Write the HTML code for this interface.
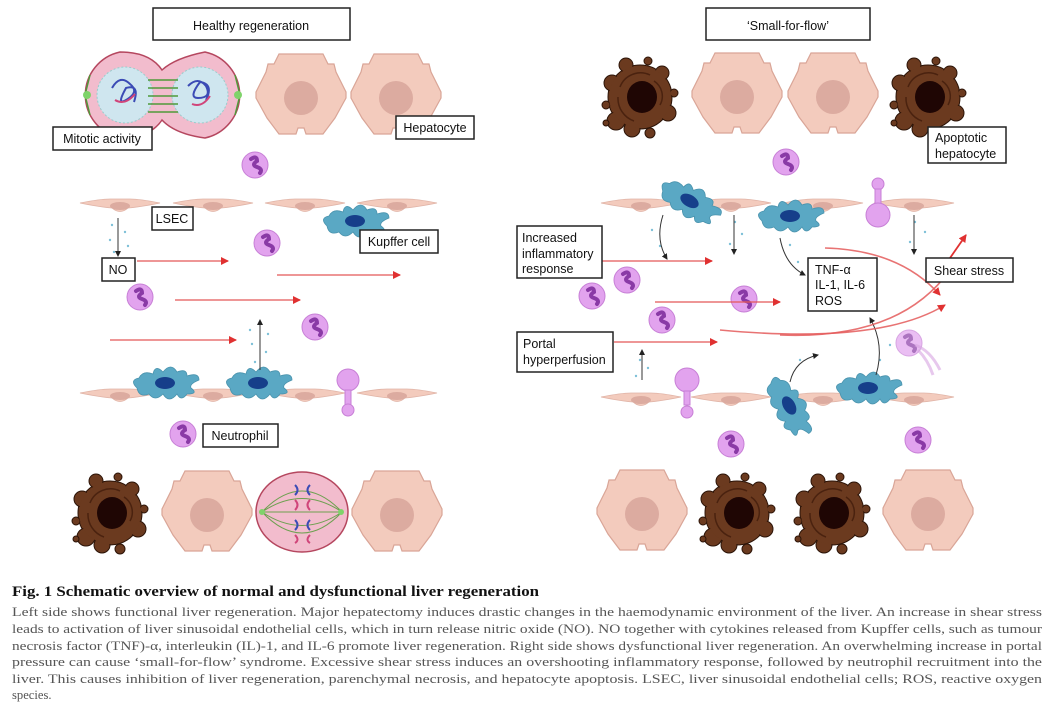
<!DOCTYPE html>
<html><head><meta charset="utf-8"><style>
html,body{margin:0;padding:0;background:#fff;}
svg{display:block;}
.lb{font-family:"Liberation Sans",sans-serif;font-size:12.5px;fill:#111;}
.cap{font-family:"Liberation Serif",serif;font-size:12.6px;fill:#555;}
</style></head><body>
<svg width="1059" height="708" viewBox="0 0 1059 708" xmlns="http://www.w3.org/2000/svg">
<defs>
<g id="hep">
<polygon points="-22,-40 22,-40 27,-30 33,-30 35,-22 45,-2 45,4 34,24 22,40 5,40 3,34 -3,34 -5,40 -22,40 -34,24 -45,4 -45,-2 -35,-22 -33,-30 -27,-30" fill="#f3cbbd" stroke="#d9a597" stroke-width="1.2"/>
<circle cx="0" cy="4" r="17" fill="#dcaba0"/>
</g>
<g id="apo">
<g fill="#6b3a1f" stroke="#2c1408" stroke-width="1">
<circle cx="0" cy="0" r="32"/>
<circle cx="-28" cy="-14" r="8"/>
<circle cx="-34" cy="8" r="4"/>
<circle cx="-24" cy="24" r="9"/>
<circle cx="-8" cy="32" r="8"/>
<circle cx="10" cy="36" r="5"/>
<circle cx="28" cy="16" r="8"/>
<circle cx="34" cy="-4" r="4"/>
<circle cx="22" cy="-24" r="7"/>
<circle cx="-14" cy="-32" r="7"/>
<circle cx="8" cy="-36" r="4"/>
<circle cx="-34" cy="26" r="3"/>
</g>
<circle cx="0" cy="0" r="31" fill="#6b3a1f"/>
<path d="M-20,-10 A22,22 0 0 1 10,-22 M-22,0 A24,24 0 0 0 -6,24 M14,-16 A18,18 0 0 1 20,8" fill="none" stroke="#4a220f" stroke-width="1.5"/>
<ellipse cx="2" cy="0" rx="15" ry="16" fill="#1f0604"/>
</g>
<g id="neu">
<circle r="13" fill="#e2a3ee" stroke="#c77fd6"/>
<path d="M-4,-6 q6,-4 6,2 q-6,4 0,6 q6,2 3,6" fill="none" stroke="#8a3aa6" stroke-width="4" stroke-linecap="round"/>
</g>
<g id="lsec">
<path d="M-40,0 Q-20,-4 -10,-4 L10,-4 Q20,-4 40,0 Q20,4 8,5 Q0,12 -8,5 Q-20,4 -40,0Z" fill="#f3cbbd" stroke="#e0b3a6" stroke-width="0.8"/>
<ellipse cx="0" cy="3" rx="10" ry="4" fill="#dcaba0"/>
</g>
<g id="kup">
<path d="M-28,6 Q-36,-2 -26,-4 Q-22,-12 -12,-8 Q-10,-18 -2,-10 Q6,-20 12,-10 Q22,-14 22,-6 Q34,-10 34,-2 Q24,2 26,6 Q34,12 22,12 Q16,20 12,12 Q4,22 -2,12 Q-10,20 -16,12 Q-26,16 -28,6Z" fill="#5aa8c4" stroke="#4a93ad" stroke-width="0.8"/>
<ellipse cx="0" cy="1" rx="10" ry="6" fill="#163f8a"/>
</g>
<marker id="ar" markerWidth="8" markerHeight="8" refX="7" refY="4" orient="auto" markerUnits="userSpaceOnUse"><path d="M0,0 L8,4 L0,8Z" fill="#e03131"/></marker>
<marker id="ab" markerWidth="6" markerHeight="6" refX="5" refY="3" orient="auto" markerUnits="userSpaceOnUse"><path d="M0,0 L6,3 L0,6Z" fill="#222"/></marker>
</defs>

<rect x="153" y="8" width="197" height="32" fill="#fff" stroke="#222" stroke-width="1.5"/>
<text x="251" y="30" class="lb" font-size="15.5" text-anchor="middle">Healthy regeneration</text>
<rect x="706" y="8" width="164" height="32" fill="#fff" stroke="#222" stroke-width="1.5"/>
<text x="788" y="30" class="lb" font-size="15.5" text-anchor="middle">‘Small-for-flow’</text>

<path d="M120,52 Q150,52 162,70 Q175,58 205,52 A44,44 0 0 1 205,138 Q175,134 162,120 Q150,138 120,138 A44,44 0 0 1 120,52Z" fill="#f2bccd" stroke="#b5475f" stroke-width="1.5"/>
<circle cx="125" cy="95" r="28" fill="#cfe6ef" stroke="#9cc" stroke-dasharray="2 2"/>
<circle cx="200" cy="95" r="28" fill="#cfe6ef" stroke="#9cc" stroke-dasharray="2 2"/>
<path d="M112,88 q8,-14 18,-4 q10,8 -4,16 q-10,6 0,-12 q14,-4 8,14 M188,86 q10,-10 18,0 q6,12 -8,12 q-10,0 2,-16 q14,2 6,18" fill="none" stroke="#3b4bb5" stroke-width="2"/>
<path d="M115,100 q10,6 20,-6 M192,104 q10,4 18,-8" fill="none" stroke="#d0457a" stroke-width="2"/>
<path d="M148,80 h30 M148,88 h30 M148,96 h30 M148,104 h30 M148,112 h30 M90,75 l-5,20 l5,20 M235,75 l5,20 l-5,20" fill="none" stroke="#4f9a3a" stroke-width="1.5"/>
<circle cx="87" cy="95" r="4" fill="#7fd36a"/><circle cx="238" cy="95" r="4" fill="#7fd36a"/>
<use href="#hep" x="301" y="94"/>
<use href="#hep" x="396" y="94"/>
<rect x="53" y="127" width="99" height="23" fill="#fff" stroke="#222" stroke-width="1.5"/>
<text x="102" y="143" class="lb" text-anchor="middle">Mitotic activity</text>
<rect x="396" y="116" width="78" height="23" fill="#fff" stroke="#222" stroke-width="1.5"/>
<text x="435" y="132" class="lb" text-anchor="middle">Hepatocyte</text>

<use href="#apo" x="640" y="97"/>
<use href="#hep" x="737" y="93"/>
<use href="#hep" x="833" y="93"/>
<use href="#apo" x="928" y="97"/>
<rect x="928" y="127" width="78" height="36" fill="#fff" stroke="#222" stroke-width="1.5"/>
<text x="935" y="142" class="lb">Apoptotic</text>
<text x="935" y="158" class="lb">hepatocyte</text>

<use href="#lsec" x="120" y="203"/><use href="#lsec" x="213" y="203"/><use href="#lsec" x="305" y="203"/><use href="#lsec" x="397" y="203"/>
<use href="#lsec" x="120" y="393"/><use href="#lsec" x="213" y="393"/><use href="#lsec" x="305" y="393"/><use href="#lsec" x="397" y="393"/>
<use href="#lsec" x="641" y="203"/><use href="#lsec" x="731" y="203"/><use href="#lsec" x="823" y="203"/><use href="#lsec" x="914" y="203"/>
<use href="#lsec" x="641" y="397"/><use href="#lsec" x="731" y="397"/><use href="#lsec" x="823" y="397"/><use href="#lsec" x="914" y="397"/>

<use href="#kup" x="355" y="220"/>
<use href="#kup" x="165" y="382"/>
<use href="#kup" x="258" y="382"/>
<use href="#kup" x="690" y="200" transform="rotate(30 690 200)"/>
<use href="#kup" x="790" y="215"/>
<use href="#kup" x="790" y="405" transform="rotate(60 790 405)"/>
<use href="#kup" x="868" y="387"/>

<use href="#neu" x="255" y="165"/><use href="#neu" x="267" y="243"/><use href="#neu" x="140" y="297"/><use href="#neu" x="315" y="327"/><use href="#neu" x="183" y="434"/>
<use href="#neu" x="786" y="162"/><use href="#neu" x="627" y="280"/><use href="#neu" x="592" y="296"/><use href="#neu" x="662" y="320"/><use href="#neu" x="744" y="299"/><use href="#neu" x="731" y="444"/><use href="#neu" x="918" y="440"/>
<g opacity="0.7"><use href="#neu" x="909" y="343"/><path d="M915,345 q15,5 25,25 M918,350 q10,10 15,25" stroke="#c77fd6" fill="none" stroke-width="3" opacity="0.6"/></g>
<g fill="#e2a3ee" stroke="#c77fd6"><circle cx="348" cy="380" r="11"/><rect x="345" y="390" width="6" height="15"/><circle cx="348" cy="410" r="6"/>
<circle cx="878" cy="184" r="6"/><rect x="875" y="189" width="6" height="15"/><circle cx="878" cy="215" r="12"/>
<circle cx="687" cy="380" r="12"/><rect x="684" y="391" width="6" height="14"/><circle cx="687" cy="412" r="6"/></g>

<g fill="#7ec0d8"><circle cx="112" cy="225" r="1.2"/><circle cx="125" cy="232" r="1.2"/><circle cx="110" cy="240" r="1.2"/><circle cx="128" cy="246" r="1.2"/><circle cx="114" cy="252" r="1.2"/>
<circle cx="250" cy="330" r="1.2"/><circle cx="268" cy="334" r="1.2"/><circle cx="252" cy="344" r="1.2"/><circle cx="266" cy="352" r="1.2"/><circle cx="255" cy="362" r="1.2"/>
<circle cx="640" cy="360" r="1.2"/><circle cx="648" cy="368" r="1.2"/><circle cx="636" cy="376" r="1.2"/><circle cx="735" cy="222" r="1.2"/><circle cx="742" cy="234" r="1.2"/><circle cx="730" cy="244" r="1.2"/>
<circle cx="915" cy="222" r="1.2"/><circle cx="925" cy="232" r="1.2"/><circle cx="910" cy="242" r="1.2"/><circle cx="652" cy="230" r="1.2"/><circle cx="660" cy="246" r="1.2"/><circle cx="790" cy="245" r="1.2"/><circle cx="798" cy="262" r="1.2"/><circle cx="880" cy="360" r="1.2"/><circle cx="890" cy="345" r="1.2"/><circle cx="800" cy="360" r="1.2"/></g>
<g stroke="#333" stroke-width="1" fill="none" marker-end="url(#ab)">
<line x1="118" y1="218" x2="118" y2="256"/>
<line x1="260" y1="370" x2="260" y2="320"/>
<line x1="642" y1="380" x2="642" y2="350"/>
<line x1="734" y1="215" x2="734" y2="254"/>
<line x1="914" y1="215" x2="914" y2="254"/>
<path d="M663,215 Q655,240 667,259"/>
<path d="M780,238 Q785,265 805,275"/>
<path d="M790,382 Q795,360 818,355"/>
<path d="M876,375 Q885,345 870,318"/>
</g>

<g stroke="#e45a5a" stroke-opacity="0.85" stroke-width="1.6" fill="none" marker-end="url(#ar)">
<line x1="137" y1="261" x2="228" y2="261"/>
<line x1="277" y1="275" x2="400" y2="275"/>
<line x1="175" y1="300" x2="300" y2="300"/>
<line x1="110" y1="340" x2="236" y2="340"/>
<line x1="602" y1="261" x2="712" y2="261"/>
<line x1="655" y1="302" x2="780" y2="302"/>
<line x1="614" y1="342" x2="717" y2="342"/>
<path d="M825,248 Q900,250 940,295"/>
<path d="M720,330 Q880,345 945,305"/>
<path d="M780,335 Q900,340 950,270"/>
</g>
<line x1="950" y1="258" x2="966" y2="235" stroke="#e03131" stroke-width="1.8" marker-end="url(#ar)"/>

<rect x="152" y="207" width="41" height="23" fill="#fff" stroke="#222" stroke-width="1.5"/>
<text x="172" y="223" class="lb" text-anchor="middle">LSEC</text>
<rect x="102" y="258" width="33" height="23" fill="#fff" stroke="#222" stroke-width="1.5"/>
<text x="118" y="274" class="lb" text-anchor="middle">NO</text>
<rect x="360" y="230" width="78" height="23" fill="#fff" stroke="#222" stroke-width="1.5"/>
<text x="399" y="246" class="lb" text-anchor="middle">Kupffer cell</text>
<rect x="203" y="424" width="75" height="23" fill="#fff" stroke="#222" stroke-width="1.5"/>
<text x="240" y="440" class="lb" text-anchor="middle">Neutrophil</text>
<rect x="517" y="226" width="85" height="52" fill="#fff" stroke="#222" stroke-width="1.5"/>
<text x="522" y="242" class="lb">Increased</text><text x="522" y="258" class="lb">inflammatory</text><text x="522" y="273" class="lb">response</text>
<rect x="808" y="258" width="69" height="53" fill="#fff" stroke="#222" stroke-width="1.5"/>
<text x="815" y="274" class="lb">TNF-α</text><text x="815" y="289" class="lb">IL-1, IL-6</text><text x="815" y="305" class="lb">ROS</text>
<rect x="926" y="258" width="87" height="24" fill="#fff" stroke="#222" stroke-width="1.5"/>
<text x="969" y="275" class="lb" text-anchor="middle">Shear stress</text>
<rect x="517" y="332" width="96" height="40" fill="#fff" stroke="#222" stroke-width="1.5"/>
<text x="523" y="348" class="lb">Portal</text><text x="523" y="364" class="lb">hyperperfusion</text>

<use href="#apo" x="110" y="513"/>
<use href="#hep" x="207" y="511"/>
<ellipse cx="302" cy="512" rx="46" ry="40" fill="#f2bccd" stroke="#b5475f" stroke-width="1.5"/>
<path d="M262,512 Q302,470 342,512 Q302,554 262,512 M262,512 Q302,485 342,512 Q302,539 262,512 M262,512 H342" fill="none" stroke="#6da050" stroke-width="1"/>
<path d="M295,485 q5,5 0,10 M310,485 q-5,5 0,10 M295,520 q5,5 0,10 M310,520 q-5,5 0,10" fill="none" stroke="#3b4bb5" stroke-width="2"/>
<path d="M295,500 q5,5 0,10 M310,500 q-5,5 0,10 M295,535 q5,5 0,8 M310,535 q-5,5 0,8" fill="none" stroke="#d0457a" stroke-width="2"/>
<circle cx="262" cy="512" r="3" fill="#7fd36a"/><circle cx="341" cy="512" r="3" fill="#7fd36a"/>
<use href="#hep" x="397" y="511"/>

<use href="#hep" x="642" y="510"/>
<use href="#apo" x="737" y="513"/>
<use href="#apo" x="832" y="513"/>
<use href="#hep" x="928" y="510"/>

<text x="12" y="596" font-family="Liberation Serif,serif" font-size="14.5" font-weight="bold" fill="#111" textLength="527" lengthAdjust="spacingAndGlyphs">Fig. 1 Schematic overview of normal and dysfunctional liver regeneration</text>
<text x="12" y="616" class="cap" textLength="1030" lengthAdjust="spacingAndGlyphs">Left side shows functional liver regeneration. Major hepatectomy induces drastic changes in the haemodynamic environment of the liver. An increase in shear stress</text>
<text x="12" y="633" class="cap" textLength="1030" lengthAdjust="spacingAndGlyphs">leads to activation of liver sinusoidal endothelial cells, which in turn release nitric oxide (NO). NO together with cytokines released from Kupffer cells, such as tumour</text>
<text x="12" y="650" class="cap" textLength="1030" lengthAdjust="spacingAndGlyphs">necrosis factor (TNF)-α, interleukin (IL)-1, and IL-6 promote liver regeneration. Right side shows dysfunctional liver regeneration. An overwhelming increase in portal</text>
<text x="12" y="666" class="cap" textLength="1030" lengthAdjust="spacingAndGlyphs">pressure can cause ‘small-for-flow’ syndrome. Excessive shear stress induces an overshooting inflammatory response, followed by neutrophil recruitment into the</text>
<text x="12" y="683" class="cap" textLength="1030" lengthAdjust="spacingAndGlyphs">liver. This causes inhibition of liver regeneration, parenchymal necrosis, and hepatocyte apoptosis. LSEC, liver sinusoidal endothelial cells; ROS, reactive oxygen</text>
<text x="12" y="699" class="cap">species.</text>
</svg>
</body></html>
